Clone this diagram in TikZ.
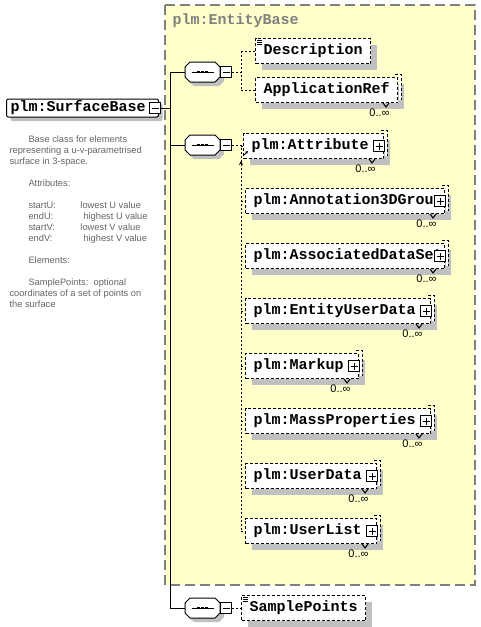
\documentclass[tikz,border=0pt]{standalone}
\usepackage{fontspec}
\setmainfont{Liberation Sans}
\newfontfamily\schemamono{Liberation Mono}
\usetikzlibrary{positioning,shadows,arrows.meta}

\definecolor{groupfill}{RGB}{255,255,204}
\definecolor{groupline}{RGB}{128,128,128}
\definecolor{shadowgray}{RGB}{192,192,192}
\definecolor{descgray}{RGB}{100,100,100}

\newcommand\monofont{\schemamono\bfseries\fontsize{15}{15}\selectfont}

\tikzset{
  rootbox/.style={draw, fill=white, anchor=west, rounded corners=2pt, minimum height=18pt,
    inner xsep=4pt, inner ysep=0pt, font=\monofont, execute at end node={\hspace{9pt}},
    general shadow={fill=shadowgray, shadow xshift=4pt, shadow yshift=-4pt}},
  elemdash/.style={dash pattern=on 3pt off 2pt},
  elem/.style={draw, elemdash, fill=white, anchor=west, minimum height=25pt,
    inner xsep=8pt, inner ysep=0pt, font=\monofont,
    general shadow={fill=shadowgray, shadow xshift=6pt, shadow yshift=-6pt}},
  expand/.style={execute at end node={\hspace{#1}}},
  expand/.default=7pt,
  seq/.style={minimum width=35pt, minimum height=20pt, inner sep=0pt, outer sep=0pt},
  octpath/.style={insert path={-- ++(0,10pt) -- ++(5pt,5pt) -- ++(25pt,0) -- ++(5pt,-5pt)
    -- ++(0,-10pt) -- ++(-5pt,-5pt) -- ++(-25pt,0) -- cycle}},
  minusbox/.style={draw, fill=white, minimum size=11pt, inner sep=0pt,
    path picture={\draw ([xshift=-3.5pt]path picture bounding box.center) -- ([xshift=3.5pt]path picture bounding box.center);}},
  plusbox/.style={draw, fill=white, minimum size=11pt, inner sep=0pt,
    path picture={\draw ([xshift=-3.5pt]path picture bounding box.center) -- ([xshift=3.5pt]path picture bounding box.center)
      ([yshift=-3.5pt]path picture bounding box.center) -- ([yshift=3.5pt]path picture bounding box.center);}},
  mult/.style={anchor=north east, inner sep=0pt, font=\fontsize{11}{11}\selectfont},
  fan/.style={dash pattern=on 2pt off 2pt},
}

\begin{document}
\begin{tikzpicture}[x=1pt, y=-1pt, line width=1pt]
\useasboundingbox (0,0) rectangle (480,627);

% EntityBase group
\draw[groupline, fill=groupfill, line width=1.5pt, dash pattern=on 10pt off 5pt] (165,5) rectangle (475,585);
\node[anchor=west, font=\monofont, text=groupline, inner sep=0pt] (grouplabel) at (172,21) {plm:EntityBase};

% root element and its documentation
\node[rootbox] (surface) at (6,108) {plm:SurfaceBase};
\node[minusbox] (surfacesign) at ([xshift=-4pt]surface.east) {};
\node[anchor=north west, align=left, inner sep=0pt, text=descgray, font=\fontsize{9.3}{11}\selectfont] (surfacedoc) at (9,135) {%
\hspace*{19pt}Base class for elements\\
representing a u-v-parametrised\\
surface in 3-space.\\[11pt]
\hspace*{19pt}Attributes:\\[11pt]
\hspace*{19pt}\makebox[52pt][l]{startU:}lowest U value\\
\hspace*{19pt}\makebox[55pt][l]{endU:}highest U value\\
\hspace*{19pt}\makebox[52pt][l]{startV:}lowest V value\\
\hspace*{19pt}\makebox[55pt][l]{endV:}highest V value\\[11pt]
\hspace*{19pt}Elements:\\[11pt]
\hspace*{19pt}SamplePoints:\ \ optional\\
coordinates of a set of points on\\
the surface};

% sequences
\node[seq] (seq1) at (202.5,72) {};
\node[seq] (seq2) at (202.5,145) {};
\node[seq] (seq3) at (202.5,608) {};
\foreach \s in {seq1,seq2,seq3} {
  \fill[shadowgray] ([shift={(4pt,-9pt)}]\s.west) [octpath];
  \draw[fill=white] ([yshift=-5pt]\s.west) [octpath];
  \draw ([xshift=-11pt]\s.center) -- ([xshift=11pt]\s.center);
  \foreach \dx in {-4pt,0pt,4pt}
    \fill ([xshift=\dx]\s.center) +(-1.3pt,-1.2pt) rectangle +(1.3pt,1.2pt);
}
\node[minusbox, right=0pt of seq1] (seq1sign) {};
\node[minusbox, right=0pt of seq2] (seq2sign) {};
\node[minusbox, right=0pt of seq3] (seq3sign) {};

% child elements
\node[elem] (desc) at (255,51) {Description};
\node[elem] (appref) at (255,90) {ApplicationRef};
\node[elem, expand] (attr) at (243,146) {plm:Attribute};
\node[elem, expand=-6pt] (annot) at (245,201) {plm:Annotation3DGroup};
\node[elem, expand=-6pt] (assoc) at (245,256) {plm:AssociatedDataSet};
\node[elem, expand] (entity) at (245,311) {plm:EntityUserData};
\node[elem, expand] (markup) at (245,366) {plm:Markup};
\node[elem, expand] (mass) at (245,421) {plm:MassProperties};
\node[elem, expand] (userdata) at (245,476) {plm:UserData};
\node[elem, expand] (userlist) at (245,531) {plm:UserList};
\node[elem] (samplepts) at (241,608) {SamplePoints};

% text content marks
\foreach \e in {desc,samplepts}
  \foreach \dy in {2pt,4pt,6pt}
    \draw[line width=0.8pt] ([shift={(2pt,-\dy)}]\e.north west) -- ++(5pt,0);

% connectors
\coordinate (trunk) at (170,0);
\coordinate (fan) at (241,0);
\draw (surfacesign.east) -- (surfacesign.east -| trunk);
\draw (seq1.west -| trunk) -- (seq3.west -| trunk);
\foreach \s in {seq1,seq2,seq3}
  \draw (\s.west -| trunk) -- (\s.west);

\draw[fan] (seq1sign.east) -- (seq1sign.east -| fan);
\draw[fan] (desc.west -| fan) -- (appref.west -| fan);
\foreach \e in {desc,appref}
  \draw[fan] (\e.west -| fan) -- (\e.west);

\draw[fan] (seq2sign.east) -- (seq2sign.east -| fan) -- (userlist.west -| fan);
\foreach \e in {attr,annot,assoc,entity,markup,mass,userdata,userlist}
  \draw[fan] (\e.west -| fan) -- (\e.west);
\draw[-{Stealth[length=4pt,width=4pt]}] ([yshift=-19pt]attr.west -| fan) -- ([yshift=-15pt]attr.west -| fan);
\draw[-{Stealth[length=3pt,width=3pt]}] ([shift={(1pt,-9pt)}]attr.west) -- ([shift={(5pt,-5pt)}]attr.west);

\draw[fan] (seq3sign.east) -- (samplepts.west);

% expand boxes and occurrences
\foreach \e in {attr,annot,assoc,entity,markup,mass,userdata,userlist}
  \node[plusbox] (\e sign) at ([xshift=-5pt]\e.east) {};
\foreach \e in {appref,attr,annot,assoc,entity,markup,mass,userdata,userlist} {
  \fill[white] ([shift={(0.5pt,3pt)}]\e.north east) rectangle ([shift={(3pt,3pt)}]\e.south east);
  \draw[elemdash] ([shift={(-3pt,3pt)}]\e.north east) -- ([shift={(3pt,3pt)}]\e.north east)
    -- ([shift={(3pt,3pt)}]\e.south east);
  \draw ([xshift=-15pt]\e.south east) -- ++(3pt,-4pt) -- ++(3pt,4pt);
  \node[mult] (\e occurs) at ([xshift=-8pt,yshift=-5pt]\e.south east) {0..∞};
}
\end{tikzpicture}
\end{document}
